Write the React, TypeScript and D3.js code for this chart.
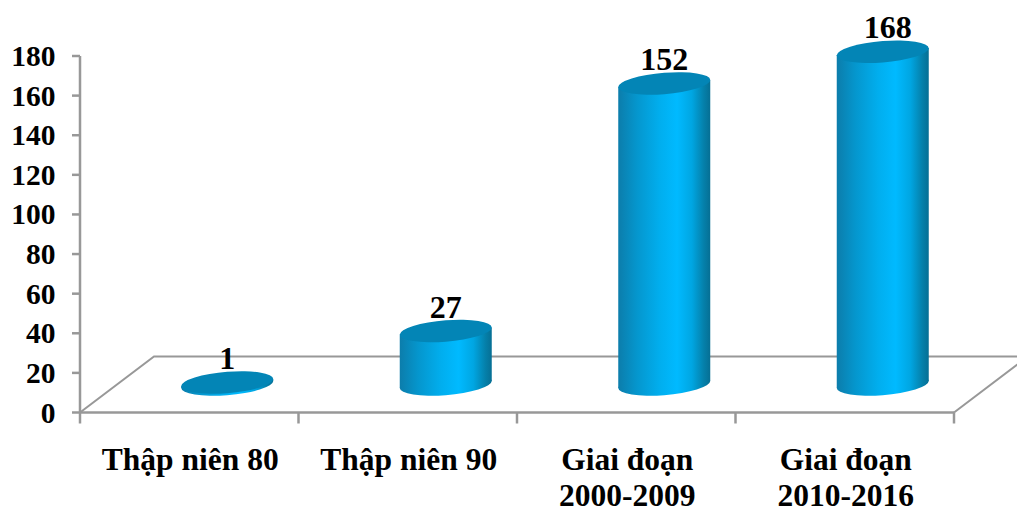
import React from "react";
import * as d3 from "d3";

// Publication counts per period, drawn as 3D-style cylinders on a receding floor.
const categories = [
  ["Thập niên 80"],
  ["Thập niên 90"],
  ["Giai đoạn", "2000-2009"],
  ["Giai đoạn", "2010-2016"],
];
const values = [1, 27, 152, 168];
const yTicks = [0, 20, 40, 60, 80, 100, 120, 140, 160, 180];

const WIDTH = 1017;
const HEIGHT = 509;
const AXIS_LEFT = 80;
const AXIS_RIGHT = 954;
const AXIS_BOTTOM = 412.5;
const AXIS_TOP = 56;
const DEPTH_X = 74;
const DEPTH_Y = 56;
const BAR_RX = 46;
const BAR_RY = 10.7;
const BAR_SKEW = -4.4;
const AXIS_COLOR = "#989898";
const FONT = "'Liberation Serif', 'Times New Roman', serif";

const x = d3
  .scaleBand<number>()
  .domain(d3.range(categories.length))
  .range([AXIS_LEFT, AXIS_RIGHT]);
const y = d3.scaleLinear().domain([0, 180]).range([AXIS_BOTTOM, AXIS_TOP]);

export default function App() {
  const band = x.bandwidth();
  const baseY = AXIS_BOTTOM - DEPTH_Y / 2;
  return (
    <svg
      width={WIDTH}
      height={HEIGHT}
      viewBox={`0 0 ${WIDTH} ${HEIGHT}`}
      style={{ position: "absolute", left: 0, top: 0, background: "#fff" }}
    >
      <defs>
        <linearGradient id="cyl" x1="0" x2="1" y1="0" y2="0">
          <stop offset="0" stopColor="#0c7dab" />
          <stop offset="0.2" stopColor="#0596cd" />
          <stop offset="0.45" stopColor="#01aeee" />
          <stop offset="0.64" stopColor="#00baff" />
          <stop offset="0.8" stopColor="#00a6e2" />
          <stop offset="0.93" stopColor="#0580aa" />
          <stop offset="1" stopColor="#066f94" />
        </linearGradient>
      </defs>

      {/* floor outline */}
      <g fill="none" stroke={AXIS_COLOR} strokeWidth={2.5}>
        <path
          d={d3.line()([
            [AXIS_LEFT, AXIS_BOTTOM],
            [AXIS_LEFT + DEPTH_X, AXIS_BOTTOM - DEPTH_Y],
            [AXIS_RIGHT + DEPTH_X, AXIS_BOTTOM - DEPTH_Y],
            [AXIS_RIGHT, AXIS_BOTTOM],
          ]) ?? undefined}
          strokeWidth={2}
        />
        <line x1={AXIS_LEFT} x2={AXIS_LEFT} y1={AXIS_TOP} y2={AXIS_BOTTOM} />
        <line x1={AXIS_LEFT} x2={AXIS_RIGHT} y1={AXIS_BOTTOM} y2={AXIS_BOTTOM} />
        {yTicks.map((t) => (
          <line key={t} x1={AXIS_LEFT - 8} x2={AXIS_LEFT} y1={y(t)} y2={y(t)} />
        ))}
        {d3.range(categories.length + 1).map((i) => {
          const tx = AXIS_LEFT + i * band;
          return <line key={i} x1={tx} x2={tx} y1={AXIS_BOTTOM} y2={AXIS_BOTTOM + 11} />;
        })}
      </g>

      {/* value axis labels */}
      <g fontFamily={FONT} fontWeight="bold" fontSize={29.5} fill="#000" textAnchor="end">
        {yTicks.map((t) => (
          <text key={t} x={55.5} y={y(t) + 10}>
            {t}
          </text>
        ))}
      </g>

      {/* cylinders */}
      {values.map((v, i) => {
        const cx = (x(i) ?? 0) + band / 2 + DEPTH_X / 2 + 1;
        const topY = y(v) - DEPTH_Y / 2;
        const h = baseY - topY;
        return (
          <g key={i} transform={`translate(${cx},0)`}>
            <g transform={`translate(0,${baseY}) skewY(${BAR_SKEW})`}>
              <ellipse rx={BAR_RX} ry={BAR_RY} fill="url(#cyl)" />
              <rect x={-BAR_RX} width={BAR_RX * 2} y={-h} height={h} fill="url(#cyl)" />
            </g>
            <ellipse
              rx={BAR_RX}
              ry={BAR_RY}
              fill="#0385b6"
              transform={`translate(0,${topY}) skewY(${BAR_SKEW})`}
            />
            <text
              x={v === 168 ? 5 : 0}
              y={topY - 13.5}
              textAnchor="middle"
              fontFamily={FONT}
              fontWeight="bold"
              fontSize={32}
              fill="#000"
            >
              {v}
            </text>
          </g>
        );
      })}

      {/* category labels */}
      <g fontFamily={FONT} fontWeight="bold" fontSize={31.5} fill="#000" textAnchor="middle">
        {categories.map((lines, i) => (
          <text key={i} y={470}>
            {lines.map((line, j) => (
              <tspan key={j} x={(x(i) ?? 0) + band / 2 + 1} dy={j === 0 ? 0 : 35.5}>
                {line}
              </tspan>
            ))}
          </text>
        ))}
      </g>
    </svg>
  );
}
